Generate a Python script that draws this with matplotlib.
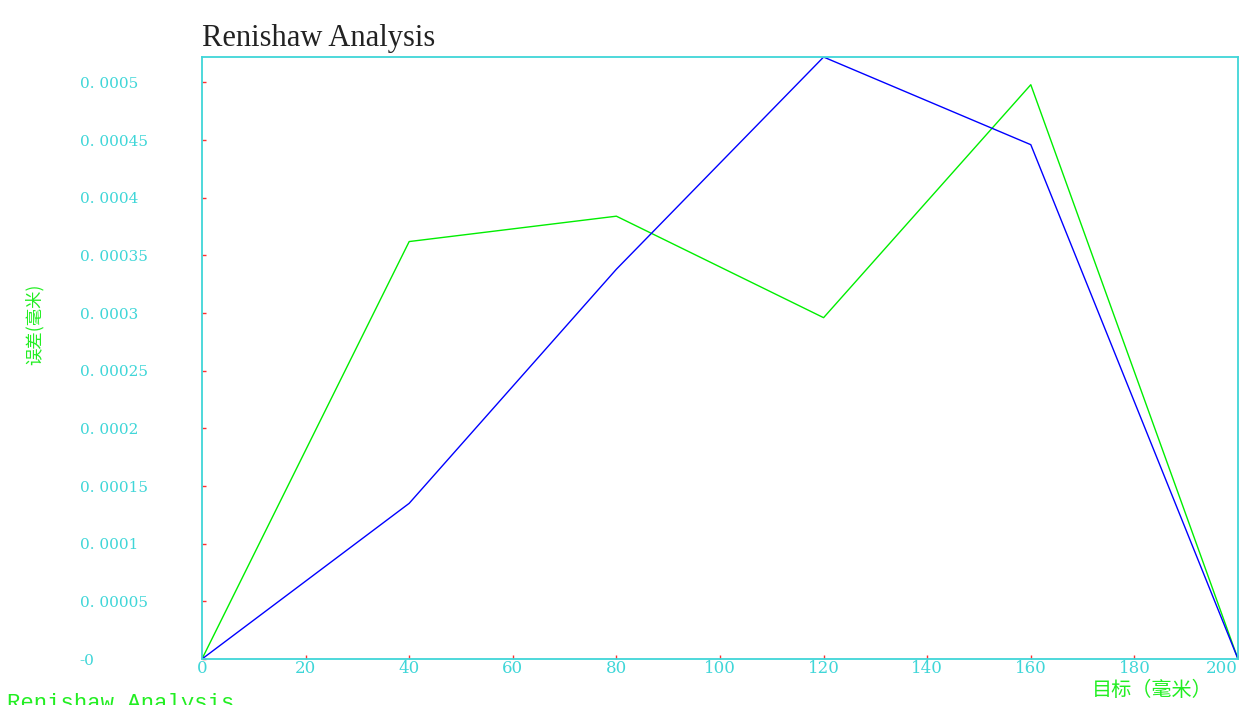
"""Renishaw 误差分析曲线。"""

import matplotlib.pyplot as plt
from matplotlib.ticker import FuncFormatter, MultipleLocator

plt.rcParams["font.family"] = ["DejaVu Serif", "Noto Sans CJK SC"]
plt.rcParams["axes.unicode_minus"] = False

TITLE = "Renishaw Analysis"
X_LABEL = "目标（毫米）"
Y_LABEL = "误差(毫米)"

# 目标位置 (mm)
TARGET = [0, 40, 80, 120, 160, 200]
X_TICKS = [0, 20, 40, 60, 80, 100, 120, 140, 160, 180, 200]
# 两次测量的误差 (mm)
ERR_GREEN = [0.0, 0.000362, 0.000384, 0.000296, 0.000498, 0.0]
ERR_BLUE = [0.0, 0.000135, 0.000338, 0.000522, 0.000446, 0.0]

CYAN = "#3fd6d8"
GREEN = "#22ee22"


def fmt_y(v, _pos):
    if abs(v) < 1e-12:
        return "-0"
    s = f"{v:.5f}".rstrip("0")
    return s.replace(".", ". ")


def main() -> None:
    fig = plt.figure(figsize=(12.39, 7.05), dpi=100)
    ax = fig.add_axes([0.1630, 0.0652, 0.8362, 0.8539])

    ax.plot(TARGET, ERR_GREEN, color="#00ee00", linewidth=1.0)
    ax.plot(TARGET, ERR_BLUE, color="#0000ff", linewidth=1.0)

    ax.set_xlim(0, 200)
    ax.set_ylim(0, 0.000522)
    ax.set_xticks(X_TICKS, [str(t) for t in X_TICKS])
    ax.yaxis.set_major_locator(MultipleLocator(0.00005))
    ax.yaxis.set_major_formatter(FuncFormatter(fmt_y))

    for sp in ax.spines.values():
        sp.set_color(CYAN)
        sp.set_linewidth(1.3)

    ax.tick_params(axis="both", direction="in", length=3, width=1,
                   color="#ff3030", labelcolor=CYAN)
    ax.tick_params(axis="y", pad=88, labelsize=11)
    for lab in ax.get_yticklabels():
        lab.set_horizontalalignment("left")
    ax.tick_params(axis="x", pad=1, labelsize=12)
    ax.get_xticklabels()[-1].set_horizontalalignment("right")

    ax.set_title(TITLE, loc="left", fontsize=22, color="#222222",
                 family="Liberation Serif", pad=8)

    fig.text(0.930, 0.021, X_LABEL, ha="center", va="center",
             fontsize=14.5, color=GREEN,
             family=["Noto Sans CJK SC", "DejaVu Sans"])
    fig.text(0.028, 0.54, Y_LABEL, ha="center", va="center", rotation=90,
             fontsize=12.5, color=GREEN,
             family=["Noto Sans CJK SC", "DejaVu Sans"])
    fig.text(0.006, 0.017, TITLE, ha="left", va="top", fontsize=16,
             color=GREEN, family="Liberation Mono")

    plt.savefig("out.png", dpi=100)


if __name__ == "__main__":
    main()
